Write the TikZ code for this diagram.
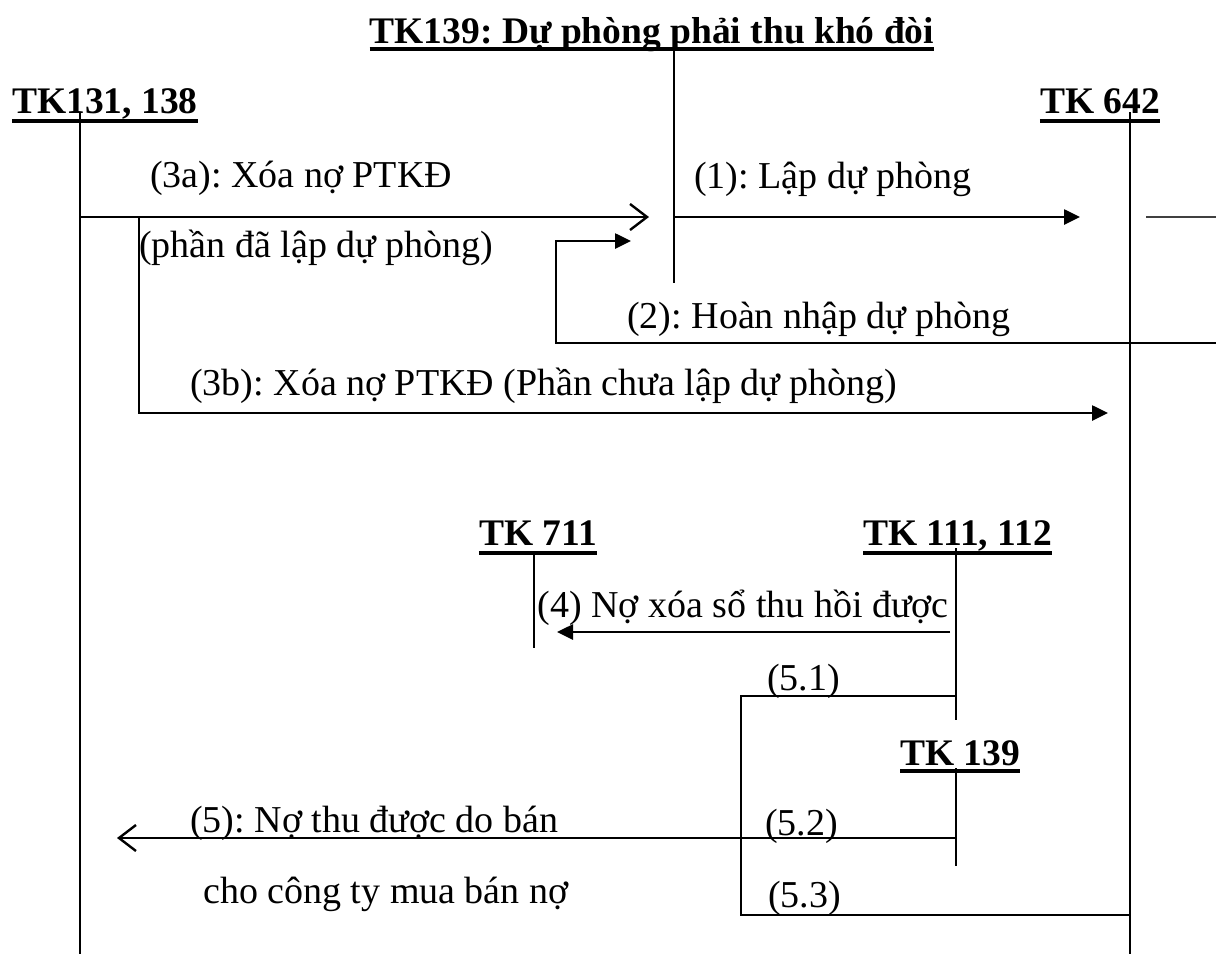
\documentclass[tikz,border=0pt]{standalone}
\usepackage{fontspec}
\setmainfont{Liberation Serif}
\usetikzlibrary{arrows.meta}
\frenchspacing
\begin{document}
\begin{tikzpicture}[x=1pt,y=-1pt,
  every node/.style={inner sep=0pt,font=\fontsize{38}{44}\selectfont},
  acct/.style={font=\fontsize{37.5}{44}\selectfont\bfseries},
  tline/.style={line width=1.6pt},
  uline/.style={line width=4pt},
  flow/.style={line width=2.6pt},
  bracket/.style={line width=2pt},
  openhead/.style={-{Straight Barb[length=17pt,width=26pt,line width=2.4pt]}},
  fillhead/.style={-{Triangle[length=16pt,width=15pt]}}
]
\useasboundingbox (0,0) rectangle (1216,954);

% account headers
\node[acct,anchor=base] (t139) at (652,43) {TK139: Dự phòng phải thu khó đòi};
\node[acct,anchor=base west] (t131) at (12,113) {TK131, 138};
\node[acct,anchor=base east] (t642) at (1160,113) {TK 642};
\node[acct,anchor=base east] (t711) at (597,545) {TK 711};
\node[acct,anchor=base west] (t111) at (863,545) {TK 111, 112};
\node[acct,anchor=base west] (t139b) at (900,765) {TK 139};

% underlines
\foreach \n/\d in {t139/6,t131/8,t642/8,t711/8,t111/8,t139b/6}
  \draw[uline] ([yshift=-\d pt]\n.base west) -- ([yshift=-\d pt]\n.base east);

% T-account lines
\coordinate (a139top) at (674,51);   \coordinate (a139bot) at (674,283);
\coordinate (a131top) at (80,112);   \coordinate (a131bot) at (80,954);
\coordinate (a642top) at (1130,112); \coordinate (a642bot) at (1130,954);
\coordinate (a711top) at (534,553);  \coordinate (a711bot) at (534,648);
\coordinate (a111top) at (956,548);  \coordinate (a111bot) at (956,720);
\coordinate (b139top) at (956,768);  \coordinate (b139bot) at (956,866);
\draw[tline] (a139top) -- (a139bot);
\draw[tline] (a131top) -- (a131bot);
\draw[tline] (a642top) -- (a642bot);
\draw[tline] (a711top) -- (a711bot);
\draw[tline] (a111top) -- (a111bot);
\draw[tline] (b139top) -- (b139bot);

% connector points
\coordinate (p3a) at (80,217);   \coordinate (e3a) at (649,217);
\coordinate (p3b) at (139,217);  \coordinate (c3b) at (139,413); \coordinate (e3b) at (1108,413);
\coordinate (p1) at (674,217);   \coordinate (e1) at (1080,217);
\coordinate (s1) at (1146,217);  \coordinate (s2) at (1216,217);
\coordinate (p2) at (1216,343);  \coordinate (c2a) at (556,343); \coordinate (c2b) at (556,241); \coordinate (e2) at (631,241);
\coordinate (p4) at (950,632);   \coordinate (e4) at (557,632);
\coordinate (p51) at (956,696);  \coordinate (c51a) at (741,696); \coordinate (c51b) at (741,915); \coordinate (e53) at (1130,915);
\coordinate (p5) at (956,838);   \coordinate (e5) at (117,838);

% flows
\draw[flow,openhead] (p3a) -- (e3a);
\draw[flow,fillhead] (p3b) -- (c3b) -- (e3b);
\draw[flow,fillhead] (p1) -- (e1);
\draw[line width=1.5pt,black!75] (s1) -- (s2);
\draw[flow,fillhead] (p2) -- (c2a) -- (c2b) -- (e2);
\draw[flow,fillhead] (p4) -- (e4);
\draw[bracket] (p51) -- (c51a) -- (c51b) -- (e53);
\draw[flow,openhead] (p5) -- (e5);

% labels
\node[anchor=base west] (l3a) at (150,187) {(3a): Xóa nợ PTKĐ};
\node[anchor=base west] (l3a2) at (139,257) {(phần đã lập dự phòng)};
\node[anchor=base west] (l1) at (694,188) {(1): Lập dự phòng};
\node[anchor=base west] (l2) at (627,328) {(2): Hoàn nhập dự phòng};
\node[anchor=base west] (l3b) at (190,395) {(3b): Xóa nợ PTKĐ (Phần chưa lập dự phòng)};
\node[anchor=base east] (l4) at (949,617) {(4) Nợ xóa sổ thu hồi được};
\node[anchor=base west] (l51) at (767,690) {(5.1)};
\node[anchor=base west] (l5) at (190,832) {(5): Nợ thu được do bán};
\node[anchor=base west] (l52) at (765,835) {(5.2)};
\node[anchor=base west] (l5b) at (203,903) {cho công ty mua bán nợ};
\node[anchor=base west] (l53) at (768,907) {(5.3)};
\end{tikzpicture}
\end{document}
